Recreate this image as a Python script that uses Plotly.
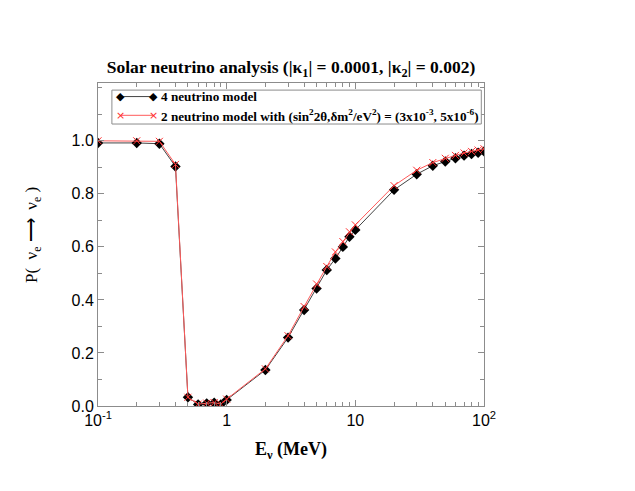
import plotly.graph_objects as go

# neutrino energy (MeV)
energy = [0.1, 0.2, 0.3, 0.4, 0.5, 0.6, 0.7, 0.8, 0.9, 1.0,
          2, 3, 4, 5, 6, 7, 8, 9, 10,
          20, 30, 40, 50, 60, 70, 80, 90, 100]

# survival probability, 4 neutrino model
p_4nu = [0.992, 0.992, 0.989, 0.903, 0.033, 0.006, 0.010, 0.012, 0.006, 0.023,
         0.136, 0.258, 0.362, 0.443, 0.513, 0.556, 0.600, 0.638, 0.664,
         0.815, 0.874, 0.906, 0.922, 0.934, 0.944, 0.950, 0.955, 0.960]

# survival probability, 2 neutrino model
p_2nu = [1.000, 1.000, 0.998, 0.911, 0.033, 0.007, 0.011, 0.013, 0.007, 0.026,
         0.140, 0.265, 0.375, 0.460, 0.526, 0.581, 0.620, 0.657, 0.683,
         0.831, 0.889, 0.918, 0.934, 0.945, 0.954, 0.960, 0.965, 0.970]

names = [
    "<b>4 neutrino model</b>",
    "<b>2 neutrino model with (sin<sup>2</sup>2θ,δm<sup>2</sup>/eV<sup>2</sup>) = (3x10<sup>-3</sup>, 5x10<sup>-6</sup>)</b>",
]

x_ticks = [0.1, 1, 10, 100]
x_ticktext = ["10<sup>-1</sup>", "1", "10", "10<sup>2</sup>"]
x_minor = [m * d for d in (0.1, 1, 10) for m in range(2, 10)]

y_ticks = [0.0, 0.2, 0.4, 0.6, 0.8, 1.0]
y_ticktext = ["0.0", "0.2", "0.4", "0.6", "0.8", "1.0"]

serif = "Liberation Serif"
sans = "Liberation Sans"
axis_gray = "#8c8c8c"
black_line = "#444444"
red_line = "#ff5a5a"
red_mark = "#ff3030"

# page body has an 8px margin, so the figure is laid out 8px up/left
L, T, PW, PH = 90, 75, 386, 323

fig = go.Figure()

fig.add_trace(go.Scatter(
    x=energy, y=p_4nu,
    mode="lines+markers",
    name=names[0],
    line=dict(color=black_line, width=1),
    marker=dict(symbol="diamond", size=8, color="black"),
))

fig.add_trace(go.Scatter(
    x=energy, y=p_2nu,
    mode="lines+markers",
    name=names[1],
    line=dict(color=red_line, width=1),
    marker=dict(symbol="x-thin-open", size=7, color=red_mark, line=dict(width=1, color=red_mark)),
))

fig.update_layout(
    width=635, height=491,
    margin=dict(l=L, r=635 - L - PW, t=T, b=491 - T - PH),
    paper_bgcolor="white",
    plot_bgcolor="white",
    showlegend=False,
    title=dict(
        text="<b>Solar neutrino analysis (|κ<sub>1</sub>| = 0.0001, |κ<sub>2</sub>| = 0.002)</b>",
        font=dict(family=serif, size=17.5, color="black"),
        x=(L + PW / 2) / 635, xanchor="center",
        y=1 - 59 / 491, yanchor="middle",
    ),
)

fig.update_xaxes(
    type="log",
    range=[-1, 2],
    tickvals=x_ticks, ticktext=x_ticktext,
    tickfont=dict(family=sans, size=16, color="black"),
    ticks="inside", ticklen=6, tickcolor=axis_gray,
    minor=dict(tickvals=x_minor, ticks="inside", ticklen=4, tickcolor=axis_gray, showgrid=False),
    showline=True, linecolor=axis_gray, linewidth=1, mirror="ticks",
    showgrid=False, zeroline=False,
    title=dict(text="<b>E<sub>ν</sub> (MeV)</b>", font=dict(family=serif, size=18, color="black"), standoff=14),
)

fig.update_yaxes(
    range=[0, 1.218],
    tickvals=y_ticks, ticktext=y_ticktext,
    tickfont=dict(family=sans, size=16, color="black"),
    ticks="inside", ticklen=6, tickcolor=axis_gray,
    minor=dict(dtick=0.1, ticks="inside", ticklen=4, tickcolor=axis_gray, showgrid=False),
    showline=True, linecolor=axis_gray, linewidth=1, mirror="ticks",
    showgrid=False, zeroline=False,
)

fig.add_annotation(
    text="P(  ν<sub>e</sub> ⟶  ν<sub>e</sub> )",
    xref="paper", yref="paper",
    x=(33 - 98) / PW, y=(406 - 235) / PH,
    xanchor="center", yanchor="middle",
    textangle=-90, showarrow=False,
    font=dict(family=serif, size=17, color="black"),
)

# legend box drawn by hand: line sample with a symbol at each end, like the original
fig.add_shape(type="rect", xref="paper", yref="paper",
              x0=0.036, x1=0.993, y0=0.873, y1=0.978,
              line=dict(color=axis_gray, width=1), fillcolor="white", layer="above")

rows = [
    (0.958, black_line, "◆", "black", 11),
    (0.900, red_line, "×", red_mark, 11),
]
for (yy, lc, sym, sc, ss), label in zip(rows, names):
    fig.add_shape(type="line", xref="paper", yref="paper",
                  x0=0.059, x1=0.143, y0=yy, y1=yy,
                  line=dict(color=lc, width=1), layer="above")
    for xx in (0.059, 0.143):
        fig.add_annotation(text=sym, xref="paper", yref="paper", x=xx, y=yy,
                           xanchor="center", yanchor="middle", showarrow=False,
                           font=dict(family="DejaVu Sans", size=ss, color=sc))
    fig.add_annotation(text=label, xref="paper", yref="paper", x=0.158, y=yy,
                       xanchor="left", yanchor="middle", showarrow=False,
                       font=dict(family=serif, size=13.2, color="black"))

fig.write_html("out.html")
